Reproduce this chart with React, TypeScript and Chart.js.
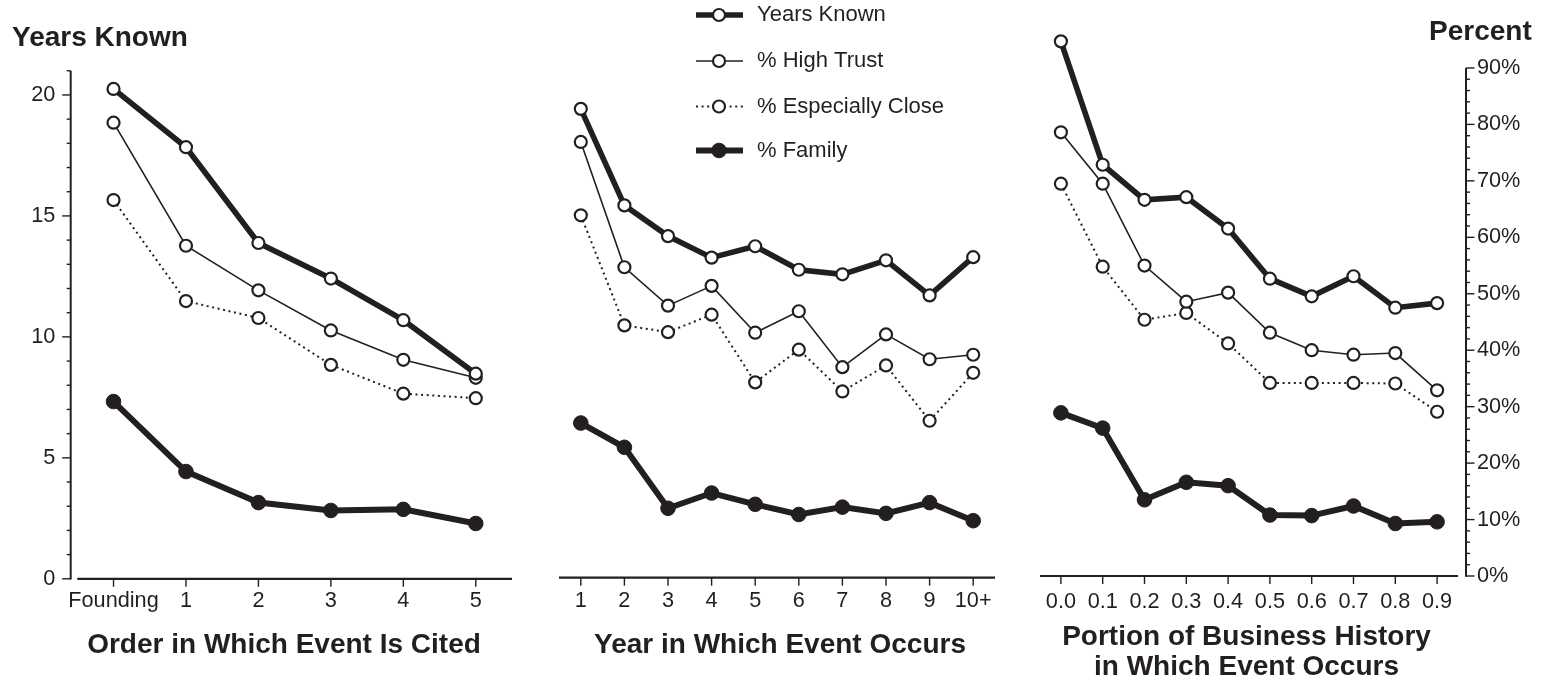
import React, { useEffect, useRef } from 'react';
import { Chart, registerables } from 'chart.js';

Chart.register(...registerables);

const INK = '#231f20';
const FONT_FAMILY = '"Liberation Sans", Arial, Helvetica, sans-serif';

// ---------- data ----------
const seriesNames = ['Years Known', '% High Trust', '% Especially Close', '% Family'];

// Panel 1: Order in which event is cited
const orderCategories = ['Founding', '1', '2', '3', '4', '5'];
const orderYearsKnown = [20.25, 17.84, 13.88, 12.41, 10.69, 8.48];
const orderHighTrust = [80.8, 59.0, 51.1, 44.0, 38.8, 35.6];
const orderEspeciallyClose = [67.1, 49.2, 46.2, 37.9, 32.8, 32.0];
const orderFamily = [31.4, 19.0, 13.5, 12.1, 12.3, 9.8];

// Panel 2: Year in which event occurs
const yearCategories = ['1', '2', '3', '4', '5', '6', '7', '8', '9', '10+'];
const yearYearsKnown = [19.38, 15.39, 14.12, 13.23, 13.7, 12.73, 12.54, 13.12, 11.67, 13.25];
const yearHighTrust = [77.2, 55.0, 48.2, 51.7, 43.4, 47.2, 37.3, 43.1, 38.7, 39.5];
const yearEspeciallyClose = [64.2, 44.7, 43.5, 46.6, 34.6, 40.4, 33.0, 37.6, 27.8, 36.3];
const yearFamily = [27.4, 23.1, 12.3, 15.0, 13.0, 11.2, 12.5, 11.4, 13.3, 10.1];

// Panel 3: Portion of business history in which event occurs
const portionCategories = ['0.0', '0.1', '0.2', '0.3', '0.4', '0.5', '0.6', '0.7', '0.8', '0.9'];
const portionYearsKnown = [22.1, 17.0, 15.55, 15.66, 14.36, 12.29, 11.56, 12.39, 11.09, 11.28];
const portionHighTrust = [78.6, 69.5, 55.0, 48.6, 50.2, 43.1, 40.0, 39.2, 39.5, 32.9];
const portionEspeciallyClose = [69.5, 54.8, 45.4, 46.6, 41.2, 34.2, 34.2, 34.2, 34.1, 29.1];
const portionFamily = [28.9, 26.2, 13.5, 16.6, 16.0, 10.8, 10.7, 12.4, 9.3, 9.6];

// Axis ranges / ticks (drawn axis extent, and the scale range that leaves headroom)
const yearsAxisMax = 21;
const yearsScaleMax = 22.4;
const yearsMajorStep = 5;
const yearsMinorStep = 1;
const percentAxisMax = 90;
const percentScaleMax = 96;
const percentMajorStep = 10;
const percentMinorStep = 2;

// ---------- styles ----------
function buildDatasets(series: number[][]) {
  const common = {
    borderColor: INK,
    pointBorderColor: INK,
    tension: 0,
    clip: false as const,
  };
  return [
    {
      ...common,
      label: seriesNames[0],
      data: series[0],
      yAxisID: 'yYears',
      borderWidth: 5.6,
      pointRadius: 6,
      pointBorderWidth: 2.2,
      pointBackgroundColor: '#ffffff',
    },
    {
      ...common,
      label: seriesNames[1],
      data: series[1],
      yAxisID: 'yPct',
      borderWidth: 1.6,
      pointRadius: 6,
      pointBorderWidth: 2.2,
      pointBackgroundColor: '#ffffff',
    },
    {
      ...common,
      label: seriesNames[2],
      data: series[2],
      yAxisID: 'yPct',
      borderWidth: 2,
      borderDash: [2, 3.6],
      pointRadius: 6,
      pointBorderWidth: 2.2,
      pointBackgroundColor: '#ffffff',
    },
    {
      ...common,
      label: seriesNames[3],
      data: series[3],
      yAxisID: 'yPct',
      borderWidth: 6,
      pointRadius: 7.3,
      pointBorderWidth: 1,
      pointBackgroundColor: INK,
    },
  ];
}

function seg(ctx: CanvasRenderingContext2D, x1: number, y1: number, x2: number, y2: number) {
  ctx.beginPath();
  ctx.moveTo(x1, y1);
  ctx.lineTo(x2, y2);
  ctx.stroke();
}

type Side = 'left' | 'right' | null;

function axesPlugin(side: Side) {
  return {
    id: 'panelAxes',
    beforeDatasetsDraw(chart: any) {
      const ctx: CanvasRenderingContext2D = chart.ctx;
      const a = chart.chartArea;
      const xs = chart.scales.x;
      ctx.save();
      ctx.strokeStyle = INK;
      ctx.lineCap = 'butt';
      ctx.lineWidth = 2.2;
      seg(ctx, a.left, a.bottom, a.right, a.bottom);
      ctx.lineWidth = 1.4;
      xs.ticks.forEach((_: any, i: number) => {
        const px = xs.getPixelForTick(i);
        seg(ctx, px, a.bottom, px, a.bottom + 8);
      });
      if (side) {
        const s = chart.scales[side === 'left' ? 'yYears' : 'yPct'];
        const top = side === 'left' ? yearsAxisMax : percentAxisMax;
        const major = side === 'left' ? yearsMajorStep : percentMajorStep;
        const minor = side === 'left' ? yearsMinorStep : percentMinorStep;
        const x0 = side === 'left' ? a.left - 6.6 : a.right + 8;
        const dir = side === 'left' ? -1 : 1;
        ctx.lineWidth = 2;
        seg(ctx, x0, s.getPixelForValue(0) + 0.7, x0, s.getPixelForValue(top));
        ctx.lineWidth = 1.4;
        const n = Math.round(top / minor);
        for (let k = 0; k <= n; k++) {
          const v = k * minor;
          const py = s.getPixelForValue(v);
          const len = v % major === 0 ? 8.5 : 4;
          seg(ctx, x0, py, x0 + dir * len, py);
        }
      }
      ctx.restore();
    },
  };
}

type TextItem = { text: string; x: number; y: number; align: CanvasTextAlign };

function textPlugin(texts: TextItem[]) {
  return {
    id: 'panelTexts',
    afterDraw(chart: any) {
      const ctx: CanvasRenderingContext2D = chart.ctx;
      ctx.save();
      ctx.fillStyle = INK;
      ctx.font = `bold 28px ${FONT_FAMILY}`;
      ctx.textBaseline = 'alphabetic';
      texts.forEach((t) => {
        ctx.textAlign = t.align;
        ctx.fillText(t.text, t.x, t.y);
      });
      ctx.restore();
    },
  };
}

const legendPlugin = {
  id: 'seriesKey',
  afterDraw(chart: any) {
    const ctx: CanvasRenderingContext2D = chart.ctx;
    const rows = [15, 61, 106.5, 150.5];
    const x1 = 176;
    const x2 = 223;
    const cx = 199;
    const tx = 237;
    chart.data.datasets.forEach((ds: any, i: number) => {
      const y = rows[i];
      ctx.save();
      ctx.strokeStyle = ds.borderColor;
      ctx.lineWidth = ds.borderWidth;
      ctx.setLineDash(ds.borderDash || []);
      seg(ctx, x1, y, x2, y);
      ctx.setLineDash([]);
      ctx.beginPath();
      ctx.arc(cx, y, ds.pointRadius, 0, Math.PI * 2);
      ctx.fillStyle = ds.pointBackgroundColor;
      ctx.fill();
      ctx.lineWidth = ds.pointBorderWidth;
      ctx.strokeStyle = ds.pointBorderColor;
      ctx.stroke();
      ctx.fillStyle = INK;
      ctx.font = `22px ${FONT_FAMILY}`;
      ctx.textAlign = 'left';
      ctx.textBaseline = 'middle';
      ctx.fillText(ds.label, tx, y);
      ctx.restore();
    });
  },
};

type PanelProps = {
  left: number;
  width: number;
  categories: string[];
  series: number[][];
  padding: { left: number; right: number; top: number; bottom: number };
  xAxisHeight: number;
  yAxisWidth: number;
  tickPadding: number;
  side: Side;
  texts: TextItem[];
  legend: boolean;
};

function Panel(p: PanelProps) {
  const ref = useRef<HTMLCanvasElement | null>(null);
  useEffect(() => {
    const canvas = ref.current;
    if (!canvas) return;
    Chart.defaults.font.family = FONT_FAMILY;
    Chart.defaults.color = INK;
    const hiddenGrid = { display: false, drawTicks: false };
    const tickFont = { size: 21.7, family: FONT_FAMILY };
    const chart = new Chart(canvas, {
      type: 'line',
      data: { labels: p.categories, datasets: buildDatasets(p.series) as any },
      options: {
        responsive: false,
        animation: false,
        devicePixelRatio: 1,
        events: [],
        layout: { padding: p.padding, autoPadding: false },
        plugins: { legend: { display: false }, tooltip: { enabled: false }, title: { display: false } },
        scales: {
          x: {
            type: 'category',
            offset: true,
            afterFit: (s: any) => {
              s.height = p.xAxisHeight;
            },
            grid: hiddenGrid,
            border: { display: false },
            ticks: { padding: p.tickPadding, autoSkip: false, maxRotation: 0, color: INK, font: tickFont },
          },
          yYears: {
            type: 'linear',
            position: 'left',
            display: p.side === 'left',
            min: 0,
            max: yearsScaleMax,
            afterFit: (s: any) => {
              s.width = p.side === 'left' ? p.yAxisWidth : 0;
            },
            grid: hiddenGrid,
            border: { display: false },
            ticks: {
              stepSize: yearsMajorStep,
              includeBounds: false,
              padding: 22,
              color: INK,
              font: tickFont,
              callback: (v: any) => String(v),
            },
          },
          yPct: {
            type: 'linear',
            position: 'right',
            display: p.side === 'right',
            min: 0,
            max: percentScaleMax,
            afterFit: (s: any) => {
              s.width = p.side === 'right' ? p.yAxisWidth : 0;
            },
            grid: hiddenGrid,
            border: { display: false },
            ticks: {
              stepSize: percentMajorStep,
              includeBounds: false,
              padding: 19,
              color: INK,
              font: tickFont,
              callback: (v: any) => `${v}%`,
            },
          },
        } as any,
      },
      plugins: [axesPlugin(p.side), textPlugin(p.texts), ...(p.legend ? [legendPlugin] : [])] as any,
    });
    return () => chart.destroy();
  }, []);
  return (
    <canvas
      ref={ref}
      width={p.width}
      height={684}
      style={{ position: 'absolute', left: p.left, top: 0, display: 'block' }}
    />
  );
}

export default function App() {
  return (
    <div
      style={{
        position: 'absolute',
        left: 0,
        top: 0,
        width: 1564,
        height: 684,
        background: '#ffffff',
        overflow: 'hidden',
      }}
    >
      <Panel
        left={0}
        width={520}
        categories={orderCategories}
        series={[orderYearsKnown, orderHighTrust, orderEspeciallyClose, orderFamily]}
        padding={{ left: 0, right: 8, top: 36.9, bottom: 60.2 }}
        xAxisHeight={45}
        yAxisWidth={77.3}
        tickPadding={9.6}
        side="left"
        legend={false}
        texts={[
          { text: 'Years Known', x: 12, y: 46, align: 'left' },
          { text: 'Order in Which Event Is Cited', x: 284, y: 652.7, align: 'center' },
        ]}
      />
      <Panel
        left={520}
        width={500}
        categories={yearCategories}
        series={[yearYearsKnown, yearHighTrust, yearEspeciallyClose, yearFamily]}
        padding={{ left: 39, right: 25, top: 35.8, bottom: 61.3 }}
        xAxisHeight={45}
        yAxisWidth={0}
        tickPadding={10.7}
        side={null}
        legend={true}
        texts={[{ text: 'Year in Which Event Occurs', x: 260, y: 652.7, align: 'center' }]}
      />
      <Panel
        left={1020}
        width={544}
        categories={portionCategories}
        series={[portionYearsKnown, portionHighTrust, portionEspeciallyClose, portionFamily]}
        padding={{ left: 20, right: 0, top: 34.1, bottom: 63 }}
        xAxisHeight={45}
        yAxisWidth={106}
        tickPadding={13.4}
        side="right"
        legend={false}
        texts={[
          { text: 'Percent', x: 409, y: 40, align: 'left' },
          { text: 'Portion of Business History', x: 226.5, y: 645, align: 'center' },
          { text: 'in Which Event Occurs', x: 226.5, y: 675, align: 'center' },
        ]}
      />
    </div>
  );
}
